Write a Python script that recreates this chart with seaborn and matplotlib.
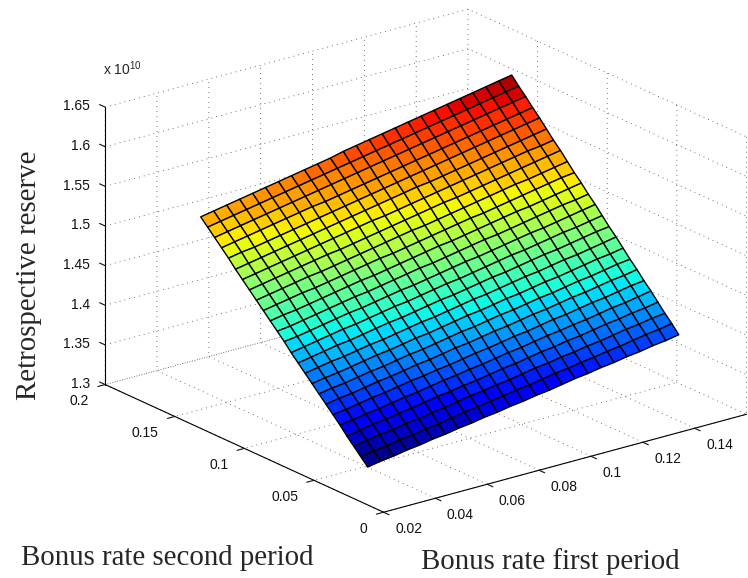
import matplotlib
matplotlib.use("Agg")
import numpy as np
import matplotlib.pyplot as plt
import seaborn as sns
from matplotlib.colors import ListedColormap, Normalize

# -------------------------------
# Data
# -------------------------------
first_rate = [0.03, 0.035, 0.04, 0.045, 0.05, 0.055, 0.06, 0.065, 0.07, 0.075, 0.08, 0.085, 0.09,
              0.095, 0.1, 0.105, 0.11, 0.115, 0.12, 0.125, 0.13, 0.135, 0.14, 0.145, 0.15]
second_rate = [0.03, 0.035, 0.04, 0.045, 0.05, 0.055, 0.06, 0.065, 0.07, 0.075, 0.08, 0.085, 0.09,
               0.095, 0.1, 0.105, 0.11, 0.115, 0.12, 0.125, 0.13, 0.135, 0.14, 0.145, 0.15]

# reserve in units of 1e10, one row per second period rate
reserve = [
    [1.324,1.327,1.329,1.332,1.334,1.337,1.339,1.342,1.344,1.347,1.349,1.352,1.354,1.357,1.359,1.362,1.365,1.367,1.370,1.372,1.375,1.377,1.380,1.382,1.385],
    [1.333,1.336,1.338,1.341,1.343,1.346,1.348,1.351,1.354,1.356,1.359,1.361,1.364,1.366,1.369,1.372,1.374,1.377,1.379,1.382,1.384,1.387,1.390,1.392,1.395],
    [1.342,1.345,1.348,1.350,1.353,1.355,1.358,1.360,1.363,1.366,1.368,1.371,1.373,1.376,1.379,1.381,1.384,1.386,1.389,1.391,1.394,1.397,1.399,1.402,1.404],
    [1.351,1.354,1.357,1.359,1.362,1.364,1.367,1.370,1.372,1.375,1.377,1.380,1.383,1.385,1.388,1.391,1.393,1.396,1.398,1.401,1.404,1.406,1.409,1.411,1.414],
    [1.361,1.363,1.366,1.368,1.371,1.374,1.376,1.379,1.382,1.384,1.387,1.389,1.392,1.395,1.397,1.400,1.403,1.405,1.408,1.410,1.413,1.416,1.418,1.421,1.424],
    [1.370,1.372,1.375,1.378,1.380,1.383,1.386,1.388,1.391,1.393,1.396,1.399,1.401,1.404,1.407,1.409,1.412,1.415,1.417,1.420,1.423,1.425,1.428,1.431,1.433],
    [1.379,1.382,1.384,1.387,1.390,1.392,1.395,1.398,1.400,1.403,1.406,1.408,1.411,1.414,1.416,1.419,1.422,1.424,1.427,1.430,1.432,1.435,1.438,1.440,1.443],
    [1.388,1.391,1.393,1.396,1.399,1.401,1.404,1.407,1.409,1.412,1.415,1.418,1.420,1.423,1.426,1.428,1.431,1.434,1.436,1.439,1.442,1.444,1.447,1.450,1.452],
    [1.397,1.400,1.402,1.405,1.408,1.411,1.413,1.416,1.419,1.421,1.424,1.427,1.430,1.432,1.435,1.438,1.440,1.443,1.446,1.448,1.451,1.454,1.457,1.459,1.462],
    [1.406,1.409,1.412,1.414,1.417,1.420,1.422,1.425,1.428,1.431,1.433,1.436,1.439,1.442,1.444,1.447,1.450,1.453,1.455,1.458,1.461,1.463,1.466,1.469,1.472],
    [1.415,1.418,1.421,1.424,1.426,1.429,1.432,1.435,1.437,1.440,1.443,1.446,1.448,1.451,1.454,1.457,1.459,1.462,1.465,1.468,1.470,1.473,1.476,1.479,1.481],
    [1.424,1.427,1.430,1.433,1.436,1.438,1.441,1.444,1.447,1.449,1.452,1.455,1.458,1.460,1.463,1.466,1.469,1.472,1.474,1.477,1.480,1.483,1.485,1.488,1.491],
    [1.434,1.436,1.439,1.442,1.445,1.448,1.450,1.453,1.456,1.459,1.461,1.464,1.467,1.470,1.473,1.475,1.478,1.481,1.484,1.487,1.489,1.492,1.495,1.498,1.501],
    [1.443,1.445,1.448,1.451,1.454,1.457,1.460,1.462,1.465,1.468,1.471,1.474,1.476,1.479,1.482,1.485,1.488,1.490,1.493,1.496,1.499,1.502,1.505,1.507,1.510],
    [1.452,1.455,1.457,1.460,1.463,1.466,1.469,1.472,1.474,1.477,1.480,1.483,1.486,1.489,1.491,1.494,1.497,1.500,1.503,1.506,1.508,1.511,1.514,1.517,1.520],
    [1.461,1.464,1.467,1.470,1.472,1.475,1.478,1.481,1.484,1.487,1.489,1.492,1.495,1.498,1.501,1.504,1.507,1.509,1.512,1.515,1.518,1.521,1.524,1.527,1.529],
    [1.470,1.473,1.476,1.479,1.482,1.484,1.487,1.490,1.493,1.496,1.499,1.502,1.505,1.507,1.510,1.513,1.516,1.519,1.522,1.525,1.528,1.530,1.533,1.536,1.539],
    [1.479,1.482,1.485,1.488,1.491,1.494,1.497,1.499,1.502,1.505,1.508,1.511,1.514,1.517,1.520,1.523,1.525,1.528,1.531,1.534,1.537,1.540,1.543,1.546,1.549],
    [1.488,1.491,1.494,1.497,1.500,1.503,1.506,1.509,1.512,1.515,1.518,1.520,1.523,1.526,1.529,1.532,1.535,1.538,1.541,1.544,1.547,1.550,1.553,1.555,1.558],
    [1.497,1.500,1.503,1.506,1.509,1.512,1.515,1.518,1.521,1.524,1.527,1.530,1.533,1.536,1.539,1.541,1.544,1.547,1.550,1.553,1.556,1.559,1.562,1.565,1.568],
    [1.507,1.510,1.512,1.515,1.518,1.521,1.524,1.527,1.530,1.533,1.536,1.539,1.542,1.545,1.548,1.551,1.554,1.557,1.560,1.563,1.566,1.569,1.572,1.575,1.578],
    [1.516,1.519,1.522,1.525,1.528,1.531,1.534,1.537,1.539,1.542,1.545,1.548,1.551,1.554,1.557,1.560,1.563,1.566,1.569,1.572,1.575,1.578,1.581,1.584,1.587],
    [1.525,1.528,1.531,1.534,1.537,1.540,1.543,1.546,1.549,1.552,1.555,1.558,1.561,1.564,1.567,1.570,1.573,1.576,1.579,1.582,1.585,1.588,1.591,1.594,1.597],
    [1.534,1.537,1.540,1.543,1.546,1.549,1.552,1.555,1.558,1.561,1.564,1.567,1.570,1.573,1.576,1.579,1.582,1.585,1.588,1.591,1.594,1.597,1.600,1.603,1.606],
    [1.543,1.546,1.549,1.552,1.555,1.558,1.561,1.564,1.567,1.570,1.573,1.577,1.580,1.583,1.586,1.589,1.592,1.595,1.598,1.601,1.604,1.607,1.610,1.613,1.616],
]

x_ticks = [0.02, 0.04, 0.06, 0.08, 0.1, 0.12, 0.14]
x_labels = ["0.02", "0.04", "0.06", "0.08", "0.1", "0.12", "0.14"]
y_ticks = [0, 0.05, 0.1, 0.15, 0.2]
y_labels = ["0", "0.05", "0.1", "0.15", "0.2"]
z_ticks = [1.3, 1.35, 1.4, 1.45, 1.5, 1.55, 1.6, 1.65]
z_labels = ["1.3", "1.35", "1.4", "1.45", "1.5", "1.55", "1.6", "1.65"]

# -------------------------------
# Style
# -------------------------------
sns.set_theme(style="white")
plt.rcParams["font.family"] = ["Liberation Sans", "DejaVu Sans"]
plt.rcParams["mathtext.default"] = "regular"

jet = ListedColormap(sns.mpl_palette("jet", 64))

# -------------------------------
# Surface
# -------------------------------
fig = plt.figure(figsize=(7.48, 5.78), dpi=100)
ax = fig.add_axes([44 / 748, 20.5 / 578, 1, 1], projection="3d", proj_type="ortho")
ax.set_box_aspect((1, 1, 0.648), zoom=1.195)
ax.view_init(elev=20.6, azim=-127.5)

X, Y = np.meshgrid(first_rate, second_rate)
Z = np.array(reserve)
# each cell takes the colour of its first corner
cell_colors = jet(Normalize(Z.min(), Z.max())(Z))
ax.plot_surface(X, Y, Z, rstride=1, cstride=1, facecolors=cell_colors,
                edgecolor="black", linewidth=1.0, shade=False, antialiased=True)

ax.set_xlim(0.02, 0.16, view_margin=0)
ax.set_ylim(0, 0.2, view_margin=0)
ax.set_zlim(1.3, 1.65, view_margin=0)
ax.set_xticks(x_ticks, x_labels)
ax.set_yticks(y_ticks, y_labels)
ax.set_zticks(z_ticks, z_labels)
ax.tick_params(labelsize=10, colors="#111111", pad=1.5)
ax.tick_params(axis="x", pad=1)
ax.tick_params(axis="z", pad=-2.9)

# z ticks run along the y direction in the reference
ax.zaxis._get_tickdir = lambda pos: 1

for lab in ax.get_xticklabels():
    lab.set_ha("left")
    lab.set_va("center")
for lab in ax.get_yticklabels():
    lab.set_ha("right")
    lab.set_va("center")
for lab in ax.get_zticklabels():
    lab.set_ha("right")
    lab.set_va("center")

for axis in [ax.xaxis, ax.yaxis, ax.zaxis]:
    axis.set_pane_color((1, 1, 1, 0))
    axis.pane.set_edgecolor("none")
    axis.line.set_color("black")
    axis.line.set_linewidth(0.8)
    axis._axinfo["grid"].update(color="#444444", linestyle=(0, (1, 5)), linewidth=0.6)
    axis._axinfo["tick"].update(inward_factor=0.25, outward_factor=0.0, linewidth={True: 0.8, False: 0.5})
ax.zaxis._axinfo["tick"].update(inward_factor=0.0, outward_factor=0.25)

# -------------------------------
# Text
# -------------------------------
fig.text(103 / 748, 1 - 69 / 578, "x 10$^{10}$", fontsize=10, va="center", ha="left")
serif = ["Liberation Serif", "DejaVu Serif"]
fig.text(167 / 748, 1 - 558 / 578, "Bonus rate second period", family=serif, fontsize=20.8, ha="center", va="center")
fig.text(550 / 748, 1 - 562 / 578, "Bonus rate first period", family=serif, fontsize=20.8, ha="center", va="center")
fig.text(29 / 748, 1 - 275 / 578, "Retrospective reserve", family=serif, fontsize=20.8, rotation=90, ha="center", va="center")

fig.savefig("out.png", dpi=100)
